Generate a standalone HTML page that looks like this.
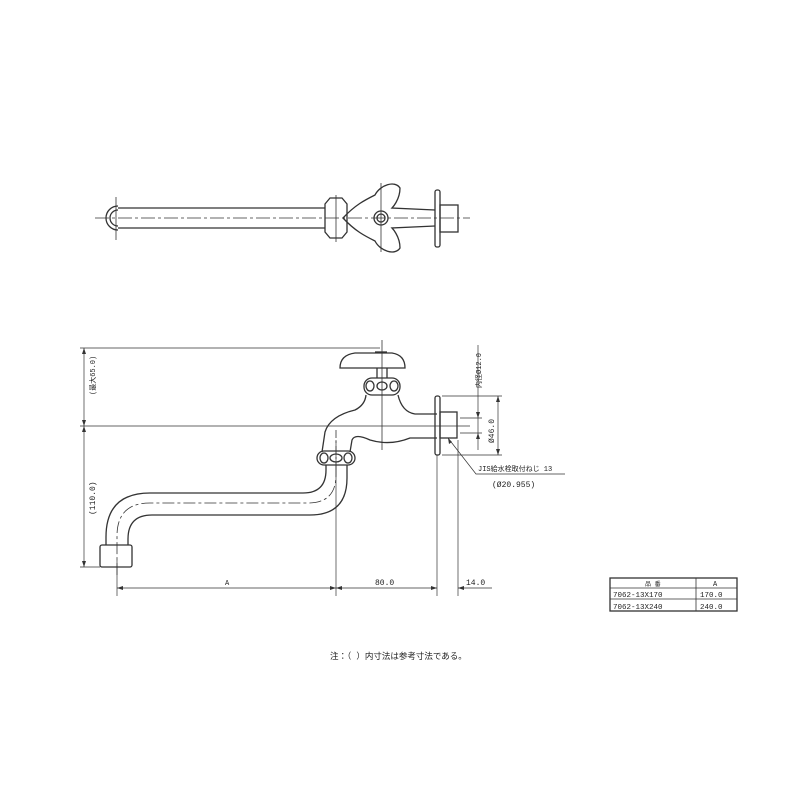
<!DOCTYPE html>
<html><head><meta charset="utf-8"><style>
html,body{margin:0;padding:0;background:#fff;}
svg{display:block}
text{font-family:"Liberation Mono","Noto Sans CJK JP",monospace;fill:#222}
</style></head><body>
<svg width="800" height="800" viewBox="0 0 800 800" xmlns="http://www.w3.org/2000/svg">
<g fill="none" stroke="#333" stroke-width="1.3">
<!-- TOP VIEW -->
<line x1="95" y1="218" x2="470" y2="218" stroke-dasharray="14,3,3,3" stroke-width="0.8"/>
<path d="M118 208 H325 M118 228 H325"/>
<path d="M118 206 A12 12 0 0 0 118 230" />
<path d="M118 210 A8 8 0 0 0 118 226" />
<line x1="116" y1="197" x2="116" y2="240" stroke-width="0.8"/>
<path d="M325 204 L330 198 H342 L347 204 L347 232 L342 238 H330 L325 232 Z"/>
<line x1="336" y1="195" x2="336" y2="242" stroke-width="0.8"/>
<path d="M343 218 C355 205 365 200 375 195 C380 185 395 180 400 188 C400 200 392 208 392 208 L435 210 M343 218 C355 231 365 236 375 241 C380 251 395 256 400 248 C400 236 392 228 392 228 L435 226"/>
<circle cx="381" cy="218" r="7"/><circle cx="381" cy="218" r="4"/>
<line x1="381" y1="183" x2="381" y2="252" stroke-width="0.8"/>
<rect x="435" y="190" width="5" height="57" rx="2"/>
<rect x="440" y="205" width="18" height="27"/>
<!-- FRONT VIEW -->
<g stroke-width="0.7">
<line x1="80" y1="348" x2="380" y2="348"/>
<line x1="80" y1="426" x2="470" y2="426"/>
<line x1="80" y1="567" x2="100" y2="567"/>
<line x1="84" y1="348" x2="84" y2="567"/>
<line x1="117" y1="560" x2="117" y2="596"/>
<line x1="336" y1="440" x2="336" y2="596"/>
<line x1="437" y1="455" x2="437" y2="596"/>
<line x1="458" y1="440" x2="458" y2="596"/>
<line x1="117" y1="588" x2="437" y2="588"/>
<line x1="458" y1="588" x2="492" y2="588"/>
<line x1="442" y1="396" x2="502" y2="396"/>
<line x1="442" y1="455" x2="502" y2="455"/>
<line x1="498" y1="396" x2="498" y2="455"/>
<line x1="460" y1="418" x2="482" y2="418"/>
<line x1="460" y1="433" x2="482" y2="433"/>
<line x1="478" y1="345" x2="478" y2="450"/>
<polyline points="448,438 476,474 565,474"/>
</g>
<g fill="#333" stroke="none">
<path d="M84 348 l-2 6 h4z M84 426 l-2 -6 h4z M84 426 l-2 6 h4z M84 567 l-2 -6 h4z"/>
<path d="M117 588 l6 -2 v4z M336 588 l-6 -2 v4z M336 588 l6 -2 v4z M437 588 l-6 -2 v4z M458 588 l6 -2 v4z"/>
<path d="M498 396 l-2 6 h4z M498 455 l-2 -6 h4z M478 418 l-2 -6 h4z M478 433 l-2 6 h4z M448 438 l1 6 l3 -2z"/>
</g>
<line x1="382" y1="340" x2="382" y2="450" stroke-width="0.8"/>
<line x1="336" y1="430" x2="336" y2="470" stroke-width="0.8" stroke-dasharray="8,3,2,3"/>
<path d="M336 465 V475 Q336 503 308 503 H150 Q117 503 117 536 V575" stroke-width="0.8" stroke-dasharray="12,3,3,3"/>
<!-- handle -->
<path d="M340 368 Q340 355 355 353 H392 Q405 355 405 368 Z"/>
<path d="M375 352 h12"/>
<path d="M377 368 V378 M387 368 V378"/>
<rect x="364" y="378" width="36" height="17" rx="8"/>
<ellipse cx="382" cy="386" rx="5" ry="4"/><ellipse cx="370" cy="386" rx="4" ry="5"/><ellipse cx="394" cy="386" rx="4" ry="5"/>
<!-- body -->
<path d="M366 395 Q365 405 355 410 Q330 416 325 432 L322 452 M398 395 Q402 412 415 414 H437 M437 438 H410 Q390 446 370 440 Q355 433 352 440 L350 452"/>
<rect x="317" y="451" width="38" height="14" rx="7"/>
<ellipse cx="336" cy="458" rx="6" ry="4"/><ellipse cx="324" cy="458" rx="4" ry="5"/><ellipse cx="348" cy="458" rx="4" ry="5"/>
<!-- S pipe -->
<path d="M326 465 V470 Q326 493 303 493 H150 Q106 493 106 537 V545 M347 465 V478 Q347 515 310 515 H152 Q128 515 128 539 V545"/>
<rect x="100" y="545" width="32" height="22" rx="2"/>
<rect x="435" y="396" width="5" height="59" rx="2"/>
<rect x="440" y="412" width="17" height="26"/>
<!-- table -->
<rect x="610" y="578" width="127" height="33" stroke-width="1.3"/>
<line x1="610" y1="588" x2="737" y2="588" stroke-width="0.8"/>
<line x1="610" y1="599" x2="737" y2="599" stroke-width="0.8"/>
<line x1="696" y1="578" x2="696" y2="611" stroke-width="0.8"/>
</g>
<g font-size="8">
<text x="225" y="585" font-size="7">A</text>
<text x="375" y="585">80.0</text>
<text x="466" y="585">14.0</text>
<text transform="translate(95,395) rotate(-90)" font-size="7">(最大65.0)</text>
<text transform="translate(95,515) rotate(-90)">(110.0)</text>
<text transform="translate(481,388) rotate(-90)" font-size="7">内径Ø12.0</text>
<text transform="translate(494,443) rotate(-90)">Ø46.0</text>
<text x="478" y="471" font-size="7">JIS給水栓取付ねじ 13</text>
<text x="492" y="487">(Ø20.955)</text>
<text x="645" y="586" font-size="6">品 番</text>
<text x="713" y="586" font-size="7">A</text>
<text x="613" y="597" font-size="7.5">7062-13X170</text>
<text x="700" y="597" font-size="7.5">170.0</text>
<text x="613" y="609" font-size="7.5">7062-13X240</text>
<text x="700" y="609" font-size="7.5">240.0</text>
<text x="330" y="659" font-size="8.5">注：（ ）内寸法は参考寸法である。</text>
</g>
</svg>
</body></html>
